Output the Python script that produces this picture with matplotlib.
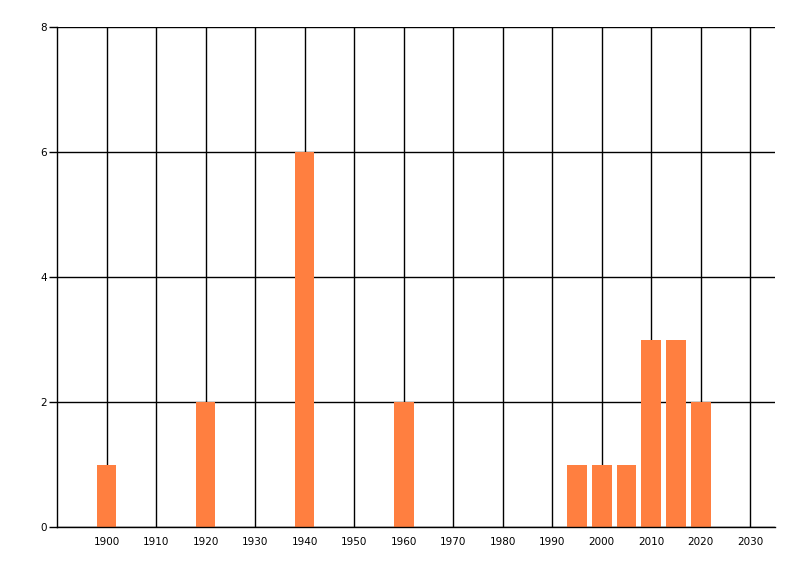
import matplotlib
matplotlib.use('Agg')
import matplotlib.pyplot as plt

years = [1900, 1920, 1940, 1960, 1995, 2000, 2005, 2010, 2015, 2020]
counts = [1, 2, 6, 2, 1, 1, 1, 3, 3, 2]
x_ticks = list(range(1900, 2031, 10))
y_ticks = [0, 2, 4, 6, 8]

plt.rcParams['font.family'] = ['DejaVu Sans']

fig = plt.figure(figsize=(8, 5.76), dpi=100)
ax = fig.add_axes([57 / 800, 49 / 576, 718 / 800, 500 / 576])

ax.bar(years, counts, width=4, color='#ff7f40', zorder=3)

ax.set_xlim(1890, 2035)
ax.set_ylim(0, 8)
ax.set_xticks(x_ticks)
ax.set_yticks(y_ticks)
ax.grid(True, color='black', linewidth=1, zorder=1)
ax.set_axisbelow(True)

for side in ['top', 'right']:
    ax.spines[side].set_visible(False)
for side in ['left', 'bottom']:
    ax.spines[side].set_linewidth(1)
    ax.spines[side].set_zorder(4)

ax.tick_params(axis='x', length=0, pad=7, labelsize=7.5)
ax.tick_params(axis='y', length=6, width=1, pad=1, labelsize=7.5)

fig.savefig('out.png', dpi=100)
